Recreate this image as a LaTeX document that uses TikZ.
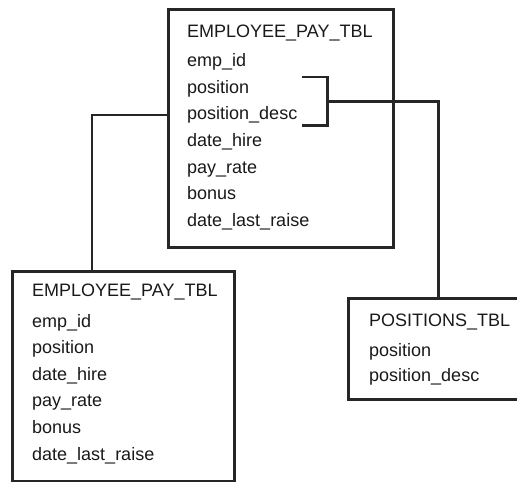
\documentclass[tikz,border=0pt]{standalone}
\usepackage{fontspec}
\setmainfont{Liberation Sans}
\usetikzlibrary{calc}
\tikzset{
  tbl/.style={draw=black!85, line width=2.5pt, anchor=north west, inner sep=0pt},
  field/.style={anchor=base west, inner sep=0pt, text=black!90,
    font=\fontsize{18}{20}\selectfont},
  link/.style={draw=black!85, line width=2.5pt},
}

\begin{document}
\begin{tikzpicture}[x=1pt,y=-1pt]
    \useasboundingbox (0,0) rectangle (517,482);
    % tables
    \node[tbl, minimum width=225pt, minimum height=238pt] (emptop) at (167,8) {};
    \node[tbl, minimum width=222pt, minimum height=210pt] (empbot) at (11,270) {};
    \node[tbl, minimum width=180pt, minimum height=101pt] (postbl) at (347,297) {};
    % columns
    \node[field] (t0) at (187,37.5) {EMPLOYEE\_PAY\_TBL};
    \foreach \f [count=\i] in {emp\_id,position,position\_desc,date\_hire,pay\_rate,bonus,date\_last\_raise}
        \node[field] (t\i) at (187,{40+\i*26.6}) {\f};
    \node[field] (b0) at (32,296.7) {EMPLOYEE\_PAY\_TBL};
    \foreach \f [count=\i] in {emp\_id,position,date\_hire,pay\_rate,bonus,date\_last\_raise}
        \node[field] (b\i) at (32,{300.5+\i*26.6}) {\f};
    \node[field] (p0) at (369,326) {POSITIONS\_TBL};
    \node[field] (p1) at (369,356.5) {position};
    \node[field] (p2) at (369,381.5) {position\_desc};
    % links
    \coordinate (brA) at ($(t3.east |- t2.north)+(5,-3)$);
    \coordinate (brB) at ($(t3.east |- t3.south)+(5,2)$);
    \coordinate (brM) at ($(brA)!0.5!(brB)+(25,0)$);
    \draw[link] (brA) -- ++(25,0) |- (brB);
    \draw[link] (brM) -| (postbl.north);
    \draw[link] (emptop.west |- t3) -| ($(empbot.north west)+(81,0)$);
\end{tikzpicture}
\end{document}
